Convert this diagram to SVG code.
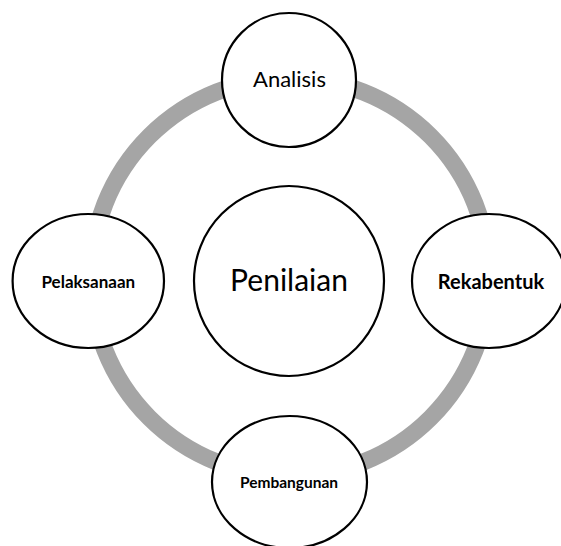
<svg xmlns="http://www.w3.org/2000/svg" width="561" height="546" viewBox="0 0 561 546">
<style>
.node{fill:#ffffff;stroke:#000000;stroke-width:2.2}
.ring{fill:none;stroke:#a5a5a5;stroke-width:17}
text{font-family:Lato,"Liberation Sans",Arial,sans-serif;fill:#000000;text-anchor:middle}
.b{font-weight:bold}
</style>
<rect width="561" height="546" fill="#ffffff"/>
<g id="connectors">
<circle class="ring" cx="290" cy="277" r="199"/>
</g>
<g id="penilaian">
<circle class="node" cx="289" cy="281" r="95"/>
<text x="289" y="291" font-size="30">Penilaian</text>
</g>
<g id="analisis">
<circle class="node" cx="289" cy="80" r="67"/>
<text x="289.5" y="87" font-size="22">Analisis</text>
</g>
<g id="rekabentuk">
<ellipse class="node" cx="489" cy="281" rx="77" ry="67"/>
<text class="b" x="491" y="288.5" font-size="20">Rekabentuk</text>
</g>
<g id="pelaksanaan">
<ellipse class="node" cx="88.3" cy="281" rx="75.7" ry="67"/>
<text class="b" x="88.3" y="287.7" font-size="17">Pelaksanaan</text>
</g>
<g id="pembangunan">
<ellipse class="node" cx="289.5" cy="482" rx="77.5" ry="66"/>
<text class="b" x="289" y="488.3" font-size="15.5">Pembangunan</text>
</g>
</svg>
